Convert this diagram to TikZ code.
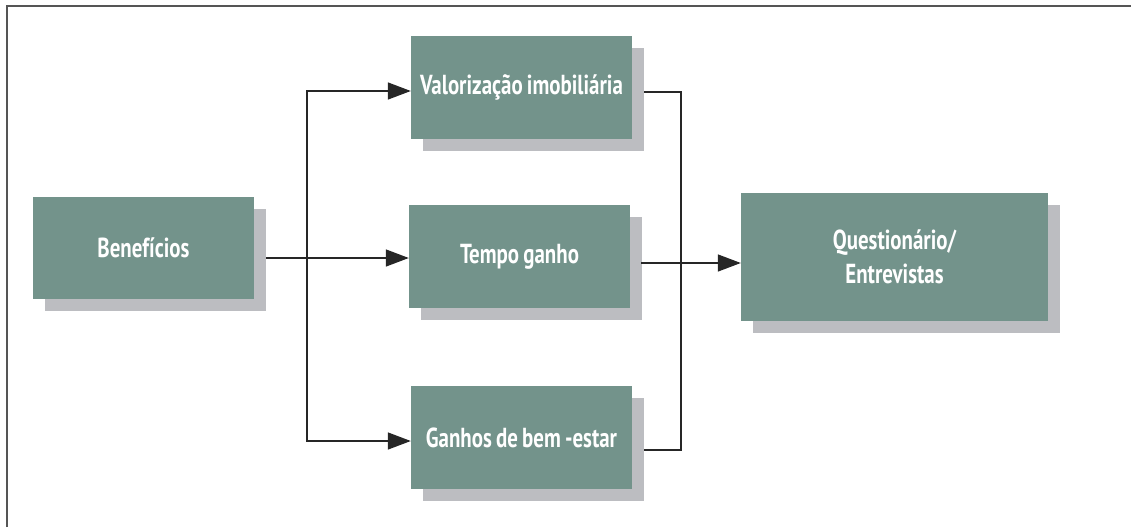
\documentclass[tikz,border=0pt]{standalone}
\usepackage{fontspec}
\newfontfamily\boxfont{PT Sans}[FakeStretch=0.76,WordSpace=0.8]
\usetikzlibrary{arrows.meta,shadows}
\definecolor{boxgreen}{HTML}{73938B}
\definecolor{shadowgray}{HTML}{BCBDC1}
\definecolor{framegray}{HTML}{555555}
\begin{document}
\begin{tikzpicture}[x=1pt,y=-1pt,
  boxnode/.style={fill=boxgreen, text=white,
    font=\boxfont\bfseries\fontsize{27.5}{34}\selectfont,
    align=center, inner sep=0pt, minimum width=221pt, minimum height=103pt,
    drop shadow={shadow xshift=12pt, shadow yshift=-12pt, fill=shadowgray, opacity=1}},
  link/.style={line width=1.5pt, draw=black!85},
  arr/.style={link, -{Triangle[length=23pt,width=17pt]}}]
\useasboundingbox (0,0) rectangle (1131,527);
\draw[framegray, line width=2pt] (6.5,527) -- (6.5,6.5) -- (1131,6.5);

\node[boxnode, minimum height=102pt] (b) at (143.5,248) {Benefícios};
\node[boxnode] (v) at (521.5,87.5) {Valorização imobiliária};
\node[boxnode] (t) at (519.5,256.5) {Tempo ganho};
\node[boxnode] (g) at (521.5,437.5) {Ganhos de bem -estar};
\node[boxnode, minimum width=307pt, minimum height=128pt] (q) at (894.5,257) {Questionário/\\Entrevistas};

\coordinate (bout) at (266,258);
\coordinate (fork) at (307,258);
\coordinate (fv) at (307,91);
\coordinate (fg) at (307,441);
\draw[link] (bout) -- (fork);
\draw[arr] (fork) -- (fork -| t.west);
\draw[arr] (fork) -- (fv) -- (v.west |- fv);
\draw[arr] (fork) -- (fg) -- (g.west |- fg);

\coordinate (vout) at (644,92);
\coordinate (mv) at (681,92);
\coordinate (gout) at (644,450);
\coordinate (mg) at (681,450);
\coordinate (tout) at (641,263);
\draw[link] (vout) -- (mv) -- (mg) -- (gout);
\draw[arr] (tout) -- (q.west |- tout);
\end{tikzpicture}
\end{document}
